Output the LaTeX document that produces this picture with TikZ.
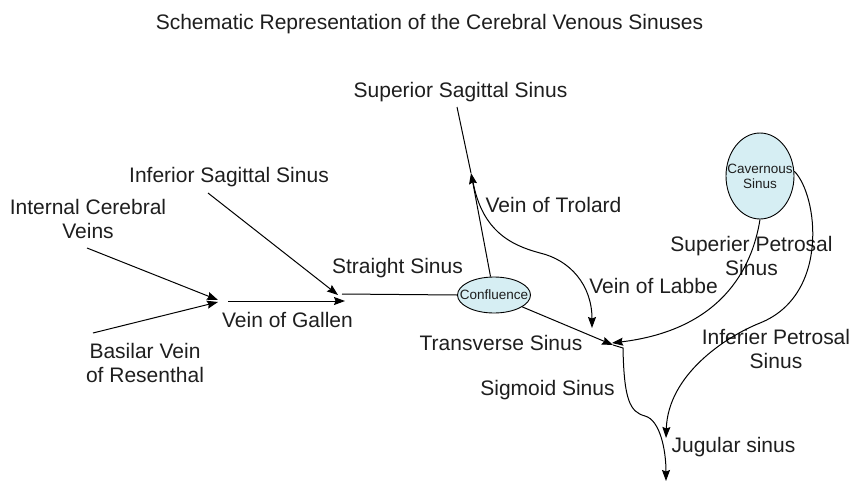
\documentclass[tikz,border=0pt]{standalone}
\usepackage{fontspec}
\setmainfont{Liberation Sans}
\usetikzlibrary{arrows.meta,shapes.geometric}
\definecolor{txt}{RGB}{30,30,30}
\definecolor{sinusfill}{RGB}{214,238,243}
\tikzset{
  lbl/.style={font=\fontsize{21}{23.5}\selectfont, text=txt, inner sep=0pt, anchor=base, align=center},
  smalllbl/.style={font=\fontsize{13.5}{15}\selectfont, text=txt},
  vessel/.style={draw=black, line width=1pt},
  flow/.style={vessel, -{Stealth[length=11pt,width=8pt,inset=1.5pt]}},
  sinusbody/.style={ellipse, draw=black, line width=0.9pt, fill=sinusfill, inner sep=0pt, smalllbl, align=center}
}
\begin{document}
\begin{tikzpicture}[x=1pt,y=-1pt]
\useasboundingbox (0,0) rectangle (852,482);

% labels (multi-line labels are anchored at the baseline of their last line)
\node[lbl] (title) at (429.5,29) {Schematic Representation of the Cerebral Venous Sinuses};
\node[lbl] (sssl) at (460.5,97) {Superior Sagittal Sinus};
\node[lbl] (issl) at (229,182) {Inferior Sagittal Sinus};
\node[lbl] (icvl) at (88,238) {Internal Cerebral\\Veins};
\node[lbl] (bvrl) at (145,382) {Basilar Vein\\of Resenthal};
\node[lbl] (vogl) at (287.5,327) {Vein of Gallen};
\node[lbl] (strl) at (397.5,273) {Straight Sinus};
\node[lbl] (trol) at (553.5,212) {Vein of Trolard};
\node[lbl] (labl) at (653.5,293) {Vein of Labbe};
\node[lbl] (trvl) at (501,350) {Transverse Sinus};
\node[lbl] (sigl) at (547.5,395) {Sigmoid Sinus};
\node[lbl] (jugl) at (733.5,452) {Jugular sinus};
\node[lbl] (supl) at (751.5,275) {Superier Petrosal\\Sinus};
\node[lbl] (infl) at (776,368) {Inferier Petrosal\\Sinus};

% sinus bodies
\node[sinusbody, minimum width=73pt, minimum height=36pt] (conf) at (494,295) {\makebox[0pt]{Confluence}};
\node[sinusbody, minimum width=68pt, minimum height=86pt] (cav) at (760,176) {\makebox[0pt]{Cavernous}\\\makebox[0pt]{Sinus}};

% junction coordinates
\coordinate (sssTop) at (457,107);
\coordinate (sssMid) at (471,173);
\coordinate (trolS) at (472,176);
\coordinate (labT) at (592,328);
\coordinate (issS) at (208,193);
\coordinate (issT) at (338,295);
\coordinate (icvS) at (87,248);
\coordinate (bvrS) at (93,333);
\coordinate (galIn) at (218,300);
\coordinate (galIn2) at (218,302);
\coordinate (galS) at (228,301);
\coordinate (galT) at (345,301);
\coordinate (strS) at (342,294);
\coordinate (trvT) at (613,345);
\coordinate (sigS) at (623,348);
\coordinate (sigM) at (645,416);
\coordinate (jugT) at (666,481);
\coordinate (spT) at (612,343);
\coordinate (ipM) at (760,323);
\coordinate (ipT) at (666,438);

% connectors
\draw[flow] (icvS) -- (galIn);
\draw[flow] (bvrS) -- (galIn2);
\draw[flow] (galS) -- (galT);
\draw[flow] (issS) -- (issT);
\draw[vessel] (strS) -- (conf.west);
\draw[flow] (conf) -- (sssMid);
\draw[vessel] (sssMid) -- (sssTop);
\draw[flow] (trolS) .. controls (480,230) and (510,245) .. (540,253)
   .. controls (570,260) and (592,285) .. (labT);
\draw[flow] (conf) -- (trvT);
\draw[flow] (cav.south) .. controls (752,270) and (720,330) .. (spT);
\draw[flow] (cav.8) .. controls (818,195) and (830,295) .. (ipM)
   .. controls (725,337) and (668,375) .. (ipT);
\draw[flow] (trvT) -- (sigS) .. controls (624,400) and (630,412) .. (sigM)
   .. controls (660,420) and (666,450) .. (jugT);
\end{tikzpicture}
\end{document}
